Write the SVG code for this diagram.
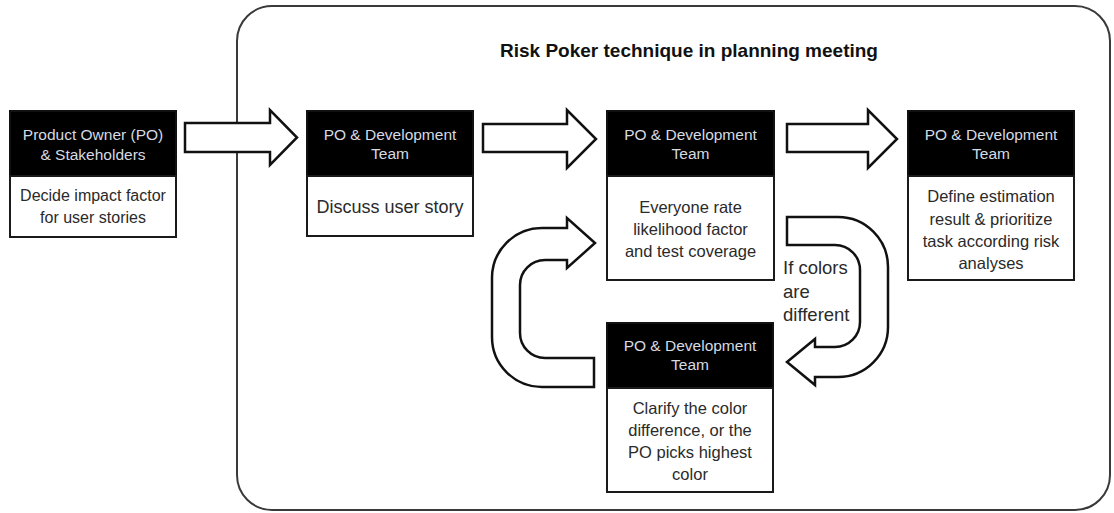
<svg xmlns="http://www.w3.org/2000/svg" width="1114" height="513" viewBox="0 0 1114 513">
<style>
.frame{fill:#fff;stroke:#3a3a3a;stroke-width:2}
.hd{fill:#000;stroke:#111;stroke-width:2}
.bd{fill:#fff;stroke:#1a1a1a;stroke-width:2}
.ht{font-family:"Liberation Sans",Arial,sans-serif;font-size:15.5px;fill:#d6dae2;text-anchor:middle}
.bt{font-family:"Liberation Sans",Arial,sans-serif;font-size:16.5px;fill:#2a2a2a;text-anchor:middle}
.arr{fill:#fff;stroke:#111;stroke-width:2.5;stroke-linejoin:miter}
.lbl{font-family:"Liberation Sans",Arial,sans-serif;font-size:18.5px;fill:#2a2a2a}
.title{font-family:"Liberation Sans",Arial,sans-serif;font-size:19px;font-weight:bold;fill:#111;text-anchor:middle}
</style>
<rect id="frame" class="frame" x="237" y="6" width="873" height="504" rx="35" ry="35"/>
<text class="title" x="689" y="57">Risk Poker technique in planning meeting</text>
<g id="connectors">
<path class="arr" d="M185,123 H270 V110 L297,137.5 L270,165 V152 H185 Z"/>
<path class="arr" d="M483,124 H567 V110 L596,139 L567,168 V152 H483 Z"/>
<path class="arr" d="M787,124 H868 V110 L897,139 L868,168 V152 H787 Z"/>
<path class="arr" d="M787,217 H838 A50,50 0 0 1 888,267 V327 A50,50 0 0 1 838,377 H815 V385 L787,362 L815,339 V347 H835 A25,25 0 0 0 860,322 V270 A25,25 0 0 0 835,245 H787 Z"/>
<path class="arr" d="M594,387 H542 A50,50 0 0 1 492,337 V278 A50,50 0 0 1 542,228 H567 V218 L595,243 L567,268 V260 H545 A25,25 0 0 0 520,285 V333 A25,25 0 0 0 545,358 H594 Z"/>
<text class="lbl" x="783" y="274">If colors</text>
<text class="lbl" x="783" y="297.5">are</text>
<text class="lbl" x="783" y="321">different</text>
</g>
<g id="node1">
<rect class="hd" x="10" y="111" width="166" height="65"/>
<rect class="bd" x="10" y="176" width="166" height="61"/>
<text class="ht" x="93" y="139.5">Product Owner (PO)</text>
<text class="ht" x="93" y="159.5">&amp; Stakeholders</text>
<text class="bt" x="93" y="201" style="font-size:16px">Decide impact factor</text>
<text class="bt" x="93" y="223" style="font-size:16px">for user stories</text>
</g>
<g id="node2">
<rect class="hd" x="307" y="111" width="166" height="65"/>
<rect class="bd" x="307" y="176" width="166" height="60"/>
<text class="ht" x="390" y="139.5">PO &amp; Development</text>
<text class="ht" x="390" y="158.5">Team</text>
<text class="bt" x="390" y="212.5" style="font-size:18px">Discuss user story</text>
</g>
<g id="node3">
<rect class="hd" x="607" y="111" width="167" height="65"/>
<rect class="bd" x="607" y="176" width="167" height="104"/>
<text class="ht" x="690.5" y="139.5">PO &amp; Development</text>
<text class="ht" x="690.5" y="158.5">Team</text>
<text class="bt" x="690.5" y="213">Everyone rate</text>
<text class="bt" x="690.5" y="235">likelihood factor</text>
<text class="bt" x="690.5" y="257">and test coverage</text>
</g>
<g id="node4">
<rect class="hd" x="908" y="111" width="166" height="65"/>
<rect class="bd" x="908" y="176" width="166" height="104"/>
<text class="ht" x="991" y="139.5">PO &amp; Development</text>
<text class="ht" x="991" y="158.5">Team</text>
<text class="bt" x="991" y="202">Define estimation</text>
<text class="bt" x="991" y="225">result &amp; prioritize</text>
<text class="bt" x="991" y="247">task according risk</text>
<text class="bt" x="991" y="269">analyses</text>
</g>
<g id="node5">
<rect class="hd" x="607" y="323" width="166" height="65"/>
<rect class="bd" x="607" y="388" width="166" height="104"/>
<text class="ht" x="690" y="350.5">PO &amp; Development</text>
<text class="ht" x="690" y="369.5">Team</text>
<text class="bt" x="690" y="414">Clarify the color</text>
<text class="bt" x="690" y="436">difference, or the</text>
<text class="bt" x="690" y="458">PO picks highest</text>
<text class="bt" x="690" y="480">color</text>
</g>
</svg>
